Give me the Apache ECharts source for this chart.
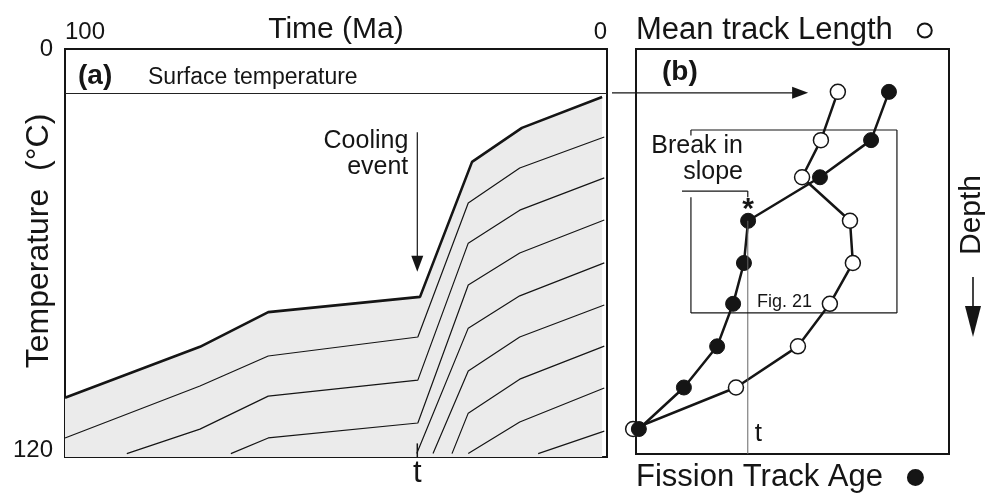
<!DOCTYPE html>
<html>
<head>
<meta charset="utf-8">
<script src="https://cdn.jsdelivr.net/npm/echarts@6/dist/echarts.min.js"></script>
<style>
  html, body { margin: 0; padding: 0; background: #fff; }
  #chart { width: 985px; height: 494px; }
</style>
</head>
<body>
<div id="chart"></div>
<script>
// ---- (a) isotherm paths: [time (Ma), temperature (°C)] ----
const isotherm0 = [[100, 102.6], [75.1, 87.6], [62.5, 77.4], [34.5, 72.9], [24.9, 33.2], [15.7, 23.2], [0.9, 14.1]];
const isotherm1 = [[100, 114.4], [75.1, 99.1], [62.5, 90.3], [34.9, 84.7], [25.6, 45.3], [16.1, 35.0], [0.5, 25.9]];
const isotherm2 = [[88.6, 119], [75.1, 111.8], [62.5, 102.1], [34.9, 97.4], [25.6, 57.1], [16.1, 47.4], [0.5, 37.9]];
const isotherm3 = [[69.4, 119], [62.5, 114.4], [34.9, 110.0], [25.6, 69.4], [16.1, 60.0], [0.5, 50.3]];
const isotherm4 = [[35.1, 119], [25.6, 82.1], [16.1, 72.6], [0.5, 62.9]];
const isotherm5 = [[32.1, 119], [25.6, 94.7], [16.1, 84.7], [0.5, 75.3]];
const isotherm6 = [[28.6, 119], [25.6, 107.1], [16.1, 97.1], [0.5, 87.4]];
const isotherm7 = [[25.6, 119], [16.1, 109.7], [0.5, 99.7]];
const isotherm8 = [[12.7, 119], [0.5, 112.4]];
const isotherms = [isotherm0, isotherm1, isotherm2, isotherm3, isotherm4, isotherm5, isotherm6, isotherm7, isotherm8];

const timeRange = [0, 100];      // Ma
const tempRange = [0, 120];      // °C
const surfaceTemp = 12.9;        // °C
const coolingTime = 35;          // Ma, time t of the cooling event

// ---- (b) profile with depth (one sample per isotherm) ----
const depth      = [12.7, 27.0, 38.0, 50.9, 63.4, 75.5, 88.1, 100.3, 112.6];
const meanLength = [63.2, 57.9, 52.0, 67.0, 67.9, 60.7, 50.7, 31.3, -0.9];
const ftAge      = [79.2, 73.6, 57.6, 35.1, 33.8, 30.4, 25.4, 15.0, 0.9];
const breakIndex = 3;            // sample marked as the break in slope

const FONT = '"Liberation Sans", Arial, Helvetica, sans-serif';
const INK = '#151515';

const chart = echarts.init(document.getElementById('chart'), null, { renderer: 'canvas' });

const isoSeries = isotherms.map((d, i) => ({
  type: 'line',
  xAxisIndex: 0, yAxisIndex: 0,
  data: d,
  symbol: 'none',
  silent: true,
  animation: false,
  z: i === 0 ? 2 : 3,
  lineStyle: { color: INK, width: i === 0 ? 2.6 : 1.2 },
  areaStyle: i === 0 ? { color: '#ebebeb', opacity: 1, origin: 'end' } : undefined,
  markLine: i === 0 ? {
    silent: true, symbol: 'none', animation: false,
    label: { show: false },
    lineStyle: { color: '#222', width: 1.2, type: 'solid' },
    data: [{ yAxis: surfaceTemp }]
  } : undefined
}));

const option = {
  backgroundColor: '#fff',
  animation: false,
  textStyle: { fontFamily: FONT },
  grid: [
    { left: 65, top: 49, width: 542, height: 408, outerBoundsMode: 'none', containLabel: false, show: true, borderColor: INK, borderWidth: 2, backgroundColor: 'transparent' },
    { left: 636, top: 49, width: 313, height: 405, outerBoundsMode: 'none', containLabel: false, show: true, borderColor: INK, borderWidth: 2, backgroundColor: 'transparent' }
  ],
  xAxis: [
    {
      gridIndex: 0, type: 'value', position: 'top', inverse: true,
      min: timeRange[0], max: timeRange[1], interval: 100,
      axisLine: { show: false }, axisTick: { show: false }, splitLine: { show: false },
      axisLabel: { fontSize: 24, color: INK, margin: 5, fontFamily: FONT, alignMinLabel: 'right', alignMaxLabel: 'left' },
      name: 'Time (Ma)', nameLocation: 'middle', nameGap: 4, nameMoveOverlap: false,
      nameTextStyle: { fontSize: 30, color: INK, fontFamily: FONT }
    },
    { gridIndex: 1, type: 'value', min: 0, max: 98, show: false }
  ],
  yAxis: [
    {
      gridIndex: 0, type: 'value', inverse: true,
      min: tempRange[0], max: tempRange[1], interval: 120,
      axisLine: { show: false }, axisTick: { show: false }, splitLine: { show: false },
      axisLabel: { fontSize: 24, lineHeight: 14, color: INK, margin: 12, fontFamily: FONT, verticalAlignMinLabel: 'middle', verticalAlignMaxLabel: 'bottom' },
      name: 'Temperature  (°C)', nameLocation: 'middle', nameGap: 10, nameMoveOverlap: false,
      nameTextStyle: { fontSize: 32, color: INK, fontFamily: FONT, padding: [0, 0, 0, 24] }
    },
    { gridIndex: 1, type: 'value', inverse: true, min: 0, max: 120, show: false }
  ],
  legend: [
    {
      data: ['Mean track Length'], left: 636, top: 15, padding: 0,
      icon: 'circle', itemWidth: 14, itemHeight: 14, align: 'right', selectedMode: false,
      textStyle: { fontSize: 31, color: INK, fontFamily: FONT, padding: [0, 20, 0, 0] }
    },
    {
      data: ['Fission Track Age'], left: 636, top: 462, padding: 0,
      icon: 'circle', itemWidth: 15, itemHeight: 15, align: 'right', selectedMode: false,
      textStyle: { fontSize: 31, color: INK, fontFamily: FONT, padding: [0, 20, 0, 0] }
    }
  ],
  series: isoSeries.concat([
    {
      name: 'Mean track Length', type: 'line',
      xAxisIndex: 1, yAxisIndex: 1,
      data: meanLength.map((v, i) => [v, depth[i]]),
      symbol: 'circle', symbolSize: 15, clip: false, z: 5,
      itemStyle: { color: '#fff', borderColor: INK, borderWidth: 1.5 },
      lineStyle: { color: INK, width: 2.5 }
    },
    {
      name: 'Fission Track Age', type: 'line',
      xAxisIndex: 1, yAxisIndex: 1,
      data: ftAge.map((v, i) => [v, depth[i]]),
      symbol: 'circle', symbolSize: 15, clip: false, z: 6,
      itemStyle: { color: INK, borderColor: INK, borderWidth: 1 },
      lineStyle: { color: INK, width: 2.5 }
    }
  ])
};

chart.setOption(option);

// ---- annotations placed through the axes' own coordinate conversion ----
const pa = (x, y) => chart.convertToPixel({ gridIndex: 0 }, [x, y]);
const pb = (x, y) => chart.convertToPixel({ gridIndex: 1 }, [x, y]);

function seg(p, q, w, c) {
  return { type: 'line', silent: true, z: 20, shape: { x1: p[0], y1: p[1], x2: q[0], y2: q[1] }, style: { stroke: c || INK, lineWidth: w || 1.2 } };
}
function head(tip, dir, len, half) {
  // filled arrowhead; dir is a unit vector pointing toward the tip
  const bx = tip[0] - dir[0] * len, by = tip[1] - dir[1] * len;
  const nx = -dir[1], ny = dir[0];
  return { type: 'polygon', silent: true, z: 21, shape: { points: [[tip[0], tip[1]], [bx + nx * half, by + ny * half], [bx - nx * half, by - ny * half]] }, style: { fill: INK } };
}
function label(text, x, y, size, opts, extra) {
  return Object.assign({ type: 'text', silent: true, z: 22, x: x, y: y,
    style: Object.assign({ text: text, fontSize: size, fontFamily: FONT, fill: INK, align: 'left', verticalAlign: 'middle' }, opts || {}) }, extra || {});
}

const g = [];

// surface temperature carried across into panel (b)
const sEnd = pa(0, surfaceTemp);
const sTip = [pb(53.9, 0)[0], sEnd[1]];
g.push(seg([sEnd[0] + 5, sEnd[1]], [sTip[0] - 14, sTip[1]], 1.2));
g.push(head(sTip, [1, 0], 16, 6));

// cooling event arrow
const cTop = pa(coolingTime, 24.5);
const cTip = pa(coolingTime, 65.5);
g.push(seg(cTop, [cTip[0], cTip[1] - 14], 1.2));
g.push(head(cTip, [0, 1], 16, 6));
g.push(label('Cooling\nevent', cTop[0] - 9, cTop[1] - 4, 25, { align: 'right', verticalAlign: 'top', lineHeight: 26 }));

// t on the time axis
const tBase = pa(coolingTime, tempRange[1]);
g.push(seg(pa(coolingTime, 116), tBase, 1.5));
g.push(label('t', tBase[0], tBase[1] + 16, 31, { align: 'center' }));

// panel (b): t reference line
const tTop = pb(coolingTime, depth[breakIndex]);
const tBot = pb(coolingTime, 120);
g.push(seg(tTop, tBot, 1, '#666'));
g.push(label('t', tBot[0] + 7, tBot[1] - 20, 26, { align: 'left' }));

// panel (b): Fig. 21 frame and break-in-slope leader
const bx0 = 17.2, bx1 = 81.7, by0 = 24.0, by1 = 78.2;
g.push(seg(pb(bx0, by0), pb(bx1, by0)));
g.push(seg(pb(bx1, by0), pb(bx1, by1)));
g.push(seg(pb(bx0, by1), pb(bx1, by1)));
g.push(seg(pb(bx0, by0), pb(bx0, 25.6)));
g.push(seg(pb(bx0, 43.9), pb(bx0, by1)));
g.push(seg(pb(14.4, 42.1), pb(coolingTime, 42.1)));
g.push(seg(pb(coolingTime, 42.1), pb(coolingTime, 43.9)));
g.push(label('Break in\nslope', 743, 133, 25, { align: 'right', verticalAlign: 'top', lineHeight: 26 }));
const star = pb(ftAge[breakIndex], depth[breakIndex]);
g.push(label('*', star[0], star[1] - 11, 30, { align: 'center', fontWeight: 'bold' }));
g.push(label('Fig. 21', 757, 302, 18));

// panel tags
g.push(label('(a)', 78, 76, 28, { fontWeight: 'bold' }));
g.push(label('(b)', 662, 72, 28, { fontWeight: 'bold' }));
g.push(label('Surface temperature', 148, 78, 23));

// depth direction
g.push(label('Depth', 972, 215, 30, { align: 'center' }, { rotation: Math.PI / 2 }));
g.push(seg([973, 277], [973, 310], 1.6));
g.push(head([973, 337], [0, 1], 31, 8));

chart.setOption({ graphic: g });
</script>
</body>
</html>
